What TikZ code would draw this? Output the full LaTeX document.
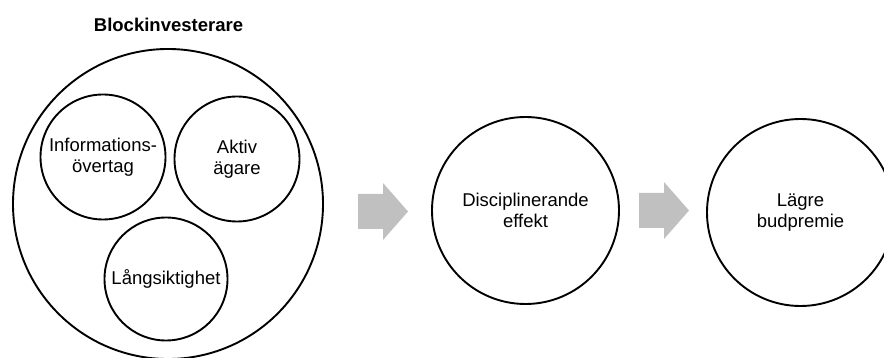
\documentclass[tikz,border=0pt]{standalone}
\usepackage{fontspec}
\setmainfont{Liberation Sans}
\definecolor{arrowgray}{RGB}{192,192,192}
\tikzset{
  ring/.style={circle, draw=black, line width=1.9pt, inner sep=0pt, align=center,
    font=\fontsize{18.5}{21.5}\selectfont},
  blockarrow/.style={fill=arrowgray, draw=none},
  titletext/.style={font=\fontsize{18.5}{21.5}\selectfont\bfseries, inner sep=0pt, anchor=base}
}
\newcommand{\blockarrowat}[1]{%
  \fill[blockarrow, shift={(#1)}] (-25,-17.5) -- (0,-17.5) -- (0,-28.5) -- (25,0)
    -- (0,28.5) -- (0,17.5) -- (-25,17.5) -- cycle;}
\begin{document}
\begin{tikzpicture}[x=1pt,y=-1pt]
\path[use as bounding box] (0,0) rectangle (884,358);
\begin{scope}
\clip (0,0) rectangle (884,358);
\node[titletext] (title) at (168.5,31.7) {Blockinvesterare};
\node[ring, minimum size=310pt] (big) at (168,204) {};
\node[ring, minimum size=125pt] (info) at (103,157) {Informations-\\övertag};
\node[ring, minimum size=125pt] (aktiv) at (237,159) {Aktiv\\ägare};
\node[ring, minimum size=123pt] (lang) at (166,279) {Långsiktighet};
\coordinate (arr1) at (383,211.5);
\blockarrowat{arr1}
\node[ring, minimum size=187pt] (disc) at (525.5,210.5) {Disciplinerande\\effekt};
\coordinate (arr2) at (664,210.5);
\blockarrowat{arr2}
\node[ring, minimum size=187pt] (lagre) at (800.5,212.5) {Lägre\\budpremie};
\end{scope}
\end{tikzpicture}
\end{document}
